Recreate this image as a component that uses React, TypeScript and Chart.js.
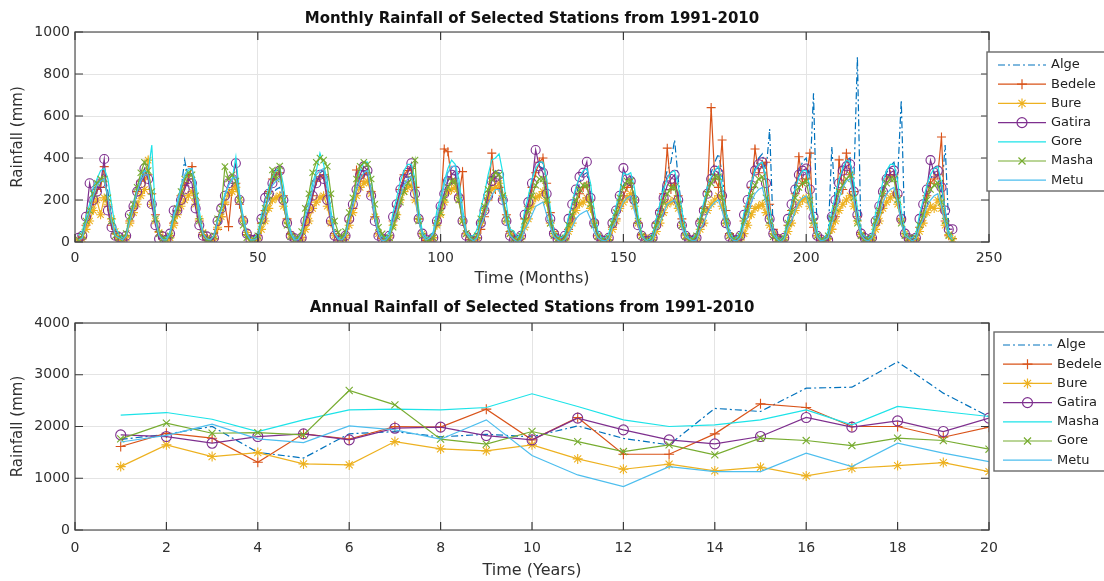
import React, { useEffect, useRef } from 'react';
import { Chart, registerables } from 'chart.js';

Chart.register(...registerables);

// ---------------- Data ----------------
const MONTH_TICKS = [0, 50, 100, 150, 200, 250];
const RAIN_M_TICKS = [0, 200, 400, 600, 800, 1000];
const YEAR_TICKS = [0, 2, 4, 6, 8, 10, 12, 14, 16, 18, 20];
const RAIN_Y_TICKS = [0, 1000, 2000, 3000, 4000];

const STATIONS_TOP = ['Alge', 'Bedele', 'Bure', 'Gatira', 'Gore', 'Masha', 'Metu'];
const STATIONS_BOTTOM = ['Alge', 'Bedele', 'Bure', 'Gatira', 'Masha', 'Gore', 'Metu'];

const monthlyAlge = [
  10, 25, 80, 120, 210, 270, 300, 330, 240, 110, 40, 15,
  5, 30, 90, 150, 230, 280, 320, 340, 230, 110, 50, 15,
  20, 40, 110, 160, 250, 390, 300, 330, 240, 110, 40, 10,
  5, 20, 60, 100, 180, 240, 270, 280, 200, 100, 35, 10,
  0, 15, 50, 110, 170, 220, 250, 260, 180, 90, 30, 15,
  10, 30, 90, 140, 230, 290, 330, 340, 240, 100, 40, 20,
  15, 20, 100, 150, 240, 300, 340, 330, 240, 110, 40, 15,
  5, 25, 80, 130, 220, 290, 320, 330, 240, 110, 40, 10,
  10, 30, 90, 140, 230, 300, 330, 320, 240, 110, 40, 10,
  20, 20, 60, 120, 210, 310, 340, 330, 230, 110, 40, 10,
  10, 40, 100, 160, 250, 330, 360, 350, 240, 110, 40, 20,
  5, 20, 80, 140, 220, 280, 320, 330, 230, 100, 35, 10,
  5, 20, 70, 120, 200, 270, 300, 310, 220, 95, 30, 5,
  10, 40, 110, 180, 280, 340, 380, 486, 300, 150, 50, 24,
  10, 30, 100, 170, 270, 330, 380, 420, 330, 160, 60, 30,
  15, 40, 120, 190, 290, 350, 400, 420, 330, 538, 40, 7,
  10, 30, 110, 180, 280, 340, 380, 400, 300, 708, 20, 2,
  10, 20, 454, 180, 290, 350, 390, 400, 260, 882, 14, 0,
  5, 20, 100, 170, 260, 330, 360, 380, 300, 676, 30, 14,
  5, 20, 80, 140, 230, 300, 330, 300, 220, 462, 70, 33,
];

const monthlyBedele = [
  10, 20, 80, 140, 190, 250, 260, 359, 170, 80, 40, 14,
  5, 30, 100, 160, 240, 290, 300, 320, 230, 130, 50, 15,
  10, 30, 90, 150, 220, 270, 300, 359, 200, 100, 35, 10,
  0, 15, 60, 120, 180, 73, 250, 280, 180, 100, 35, 17,
  10, 30, 90, 150, 240, 300, 320, 330, 220, 110, 40, 18,
  5, 20, 80, 140, 220, 290, 310, 320, 220, 100, 40, 10,
  10, 30, 100, 160, 343, 290, 320, 330, 240, 120, 40, 17,
  10, 30, 100, 170, 250, 320, 340, 350, 260, 110, 40, 7,
  5, 20, 90, 160, 443, 430, 300, 280, 220, 335, 40, 12,
  5, 20, 60, 120, 200, 423, 250, 260, 200, 130, 50, 24,
  10, 30, 110, 170, 260, 330, 380, 400, 280, 140, 50, 14,
  0, 15, 60, 110, 180, 230, 260, 270, 200, 100, 30, 9,
  5, 10, 70, 110, 170, 220, 260, 280, 200, 90, 35, 14,
  5, 20, 90, 150, 230, 447, 250, 280, 220, 110, 40, 16,
  10, 30, 100, 160, 240, 640, 300, 260, 486, 150, 40, 22,
  10, 30, 100, 170, 260, 443, 330, 370, 380, 180, 60, 34,
  5, 20, 80, 150, 230, 406, 280, 300, 423, 70, 30, 6,
  0, 15, 60, 120, 391, 250, 423, 320, 240, 120, 45, 16,
  5, 20, 80, 140, 230, 300, 320, 320, 220, 110, 40, 8,
  5, 15, 70, 130, 220, 280, 300, 320, 500, 100, 30, 17,
];

const monthlyBure = [
  5, 15, 60, 100, 150, 200, 130, 210, 180, 110, 50, 15,
  10, 20, 90, 140, 180, 220, 250, 390, 180, 100, 45, 20,
  5, 20, 80, 130, 170, 200, 220, 240, 180, 110, 45, 19,
  0, 15, 70, 120, 190, 230, 240, 260, 200, 110, 45, 16,
  0, 10, 60, 100, 160, 200, 210, 220, 170, 100, 35, 12,
  5, 10, 60, 100, 160, 190, 210, 220, 170, 90, 30, 13,
  10, 20, 80, 140, 220, 260, 280, 290, 230, 120, 40, 19,
  5, 20, 80, 130, 200, 240, 260, 270, 200, 110, 40, 12,
  5, 20, 80, 130, 190, 240, 250, 260, 200, 100, 40, 14,
  10, 20, 90, 150, 210, 250, 260, 280, 220, 100, 40, 15,
  5, 15, 70, 110, 170, 210, 220, 240, 190, 90, 40, 14,
  0, 10, 50, 90, 150, 180, 190, 210, 160, 90, 30, 14,
  0, 10, 60, 100, 160, 190, 210, 230, 170, 90, 30, 21,
  0, 10, 50, 90, 140, 180, 190, 200, 160, 80, 30, 12,
  0, 10, 60, 90, 150, 180, 200, 220, 170, 90, 30, 13,
  0, 10, 40, 80, 130, 160, 170, 180, 140, 80, 40, 15,
  0, 10, 50, 90, 150, 180, 200, 210, 170, 90, 30, 13,
  0, 15, 60, 100, 150, 180, 200, 220, 170, 100, 35, 15,
  5, 15, 60, 100, 160, 190, 210, 230, 180, 100, 40, 13,
  0, 10, 50, 90, 140, 170, 160, 200, 160, 80, 35, 14,
];

const monthlyGatira = [
  20, 30, 120, 280, 200, 240, 280, 395, 150, 70, 30, 23,
  5, 30, 130, 170, 240, 280, 350, 300, 180, 80, 15, 26,
  10, 40, 150, 150, 200, 250, 300, 280, 160, 80, 30, 27,
  0, 20, 100, 160, 220, 280, 300, 375, 200, 100, 40, 11,
  10, 20, 110, 210, 230, 280, 320, 340, 200, 90, 30, 18,
  5, 20, 100, 160, 220, 280, 320, 300, 200, 100, 30, 7,
  10, 30, 110, 180, 250, 320, 360, 340, 220, 100, 30, 17,
  10, 30, 120, 180, 250, 300, 330, 375, 230, 110, 40, 12,
  5, 20, 100, 170, 230, 290, 320, 340, 210, 100, 30, 10,
  5, 20, 90, 150, 220, 290, 310, 320, 200, 100, 30, 7,
  10, 30, 130, 190, 280, 438, 360, 330, 230, 110, 40, 13,
  5, 30, 110, 180, 250, 310, 330, 382, 210, 90, 30, 8,
  5, 20, 90, 150, 220, 352, 300, 290, 200, 80, 30, 5,
  5, 20, 80, 140, 210, 270, 300, 320, 200, 80, 30, 9,
  5, 20, 90, 150, 230, 300, 340, 330, 220, 90, 25, 6,
  10, 30, 130, 200, 270, 340, 370, 380, 280, 110, 40, 14,
  5, 20, 110, 180, 250, 320, 340, 350, 250, 120, 30, 12,
  0, 10, 120, 200, 280, 340, 360, 370, 240, 130, 40, 19,
  5, 20, 100, 170, 240, 300, 330, 340, 230, 110, 40, 18,
  10, 20, 110, 180, 250, 390, 330, 340, 260, 150, 60, 61,
];

const monthlyGore = [
  30, 50, 120, 180, 260, 300, 340, 350, 300, 180, 70, 39,
  20, 40, 130, 190, 260, 310, 340, 330, 462, 130, 40, 18,
  20, 50, 130, 190, 270, 310, 340, 350, 280, 150, 40, 10,
  10, 30, 100, 160, 230, 270, 300, 406, 230, 120, 40, 7,
  20, 40, 130, 190, 260, 310, 340, 360, 270, 140, 50, 19,
  20, 50, 140, 200, 280, 340, 423, 370, 290, 150, 40, 19,
  20, 50, 140, 200, 290, 340, 380, 380, 300, 160, 50, 25,
  20, 50, 140, 210, 290, 340, 370, 370, 300, 160, 50, 22,
  20, 50, 150, 210, 290, 350, 390, 370, 300, 160, 50, 27,
  30, 60, 160, 230, 320, 390, 400, 420, 330, 180, 60, 52,
  20, 50, 150, 220, 300, 350, 380, 380, 300, 160, 50, 27,
  20, 40, 120, 190, 260, 310, 340, 350, 280, 150, 50, 19,
  20, 40, 110, 170, 240, 330, 320, 330, 260, 130, 40, 10,
  10, 30, 110, 180, 250, 300, 330, 340, 270, 150, 50, 12,
  20, 40, 120, 190, 260, 310, 340, 360, 270, 150, 50, 19,
  20, 50, 140, 200, 280, 340, 370, 380, 300, 160, 60, 22,
  10, 30, 110, 180, 250, 310, 340, 340, 260, 140, 50, 12,
  20, 50, 150, 220, 300, 350, 390, 380, 290, 160, 50, 27,
  20, 40, 140, 210, 290, 340, 370, 370, 290, 150, 50, 20,
  20, 40, 130, 200, 270, 320, 350, 360, 280, 150, 50, 23,
];

const monthlyMasha = [
  10, 30, 100, 150, 230, 280, 300, 300, 210, 100, 30, 20,
  10, 40, 120, 180, 260, 330, 380, 340, 240, 110, 40, 14,
  10, 30, 110, 160, 240, 300, 330, 320, 220, 100, 40, 10,
  10, 30, 110, 160, 359, 300, 320, 290, 200, 80, 20, 4,
  10, 30, 100, 160, 220, 343, 300, 362, 200, 80, 25, 8,
  20, 50, 160, 230, 330, 380, 400, 390, 360, 230, 100, 46,
  20, 50, 140, 210, 300, 360, 380, 370, 300, 180, 70, 39,
  5, 20, 70, 120, 190, 240, 280, 300, 390, 100, 30, 10,
  5, 20, 90, 140, 210, 260, 290, 290, 200, 100, 40, 13,
  10, 30, 110, 170, 250, 300, 330, 320, 220, 110, 40, 13,
  5, 30, 100, 150, 220, 270, 300, 300, 200, 90, 30, 14,
  5, 20, 80, 130, 200, 250, 270, 270, 180, 80, 25, 6,
  5, 20, 90, 140, 210, 260, 290, 290, 200, 100, 30, 10,
  0, 20, 80, 120, 190, 230, 260, 260, 180, 80, 25, 6,
  10, 30, 100, 150, 230, 280, 310, 310, 210, 100, 30, 14,
  5, 30, 100, 150, 220, 270, 300, 310, 210, 100, 25, 9,
  5, 20, 90, 140, 210, 260, 280, 290, 200, 100, 30, 7,
  5, 30, 110, 160, 240, 270, 300, 320, 210, 90, 30, 9,
  10, 20, 100, 150, 230, 280, 300, 300, 200, 90, 30, 19,
  5, 20, 80, 130, 200, 250, 270, 280, 190, 100, 30, 6,
];

const monthlyMetu = [
  10, 20, 90, 140, 220, 270, 290, 300, 210, 100, 30, 20,
  10, 30, 100, 160, 240, 290, 320, 320, 220, 100, 30, 10,
  10, 40, 120, 180, 260, 320, 350, 350, 250, 110, 40, 15,
  10, 30, 100, 150, 220, 270, 300, 310, 220, 100, 40, 10,
  10, 20, 90, 140, 210, 270, 290, 300, 210, 100, 40, 10,
  10, 40, 120, 170, 250, 320, 340, 350, 250, 110, 40, 12,
  10, 30, 110, 170, 250, 300, 330, 340, 240, 110, 40, 5,
  10, 30, 100, 150, 220, 270, 300, 310, 220, 100, 35, 10,
  20, 40, 120, 190, 270, 330, 360, 360, 260, 120, 40, 19,
  5, 20, 80, 120, 180, 220, 250, 250, 180, 90, 30, 13,
  0, 10, 60, 90, 130, 170, 180, 190, 130, 70, 25, 9,
  0, 10, 40, 70, 110, 130, 140, 150, 110, 50, 20, 9,
  5, 15, 70, 100, 150, 190, 210, 220, 150, 80, 25, 10,
  0, 10, 60, 90, 140, 180, 190, 200, 150, 70, 25, 14,
  5, 10, 60, 90, 140, 170, 190, 200, 150, 80, 25, 9,
  5, 20, 80, 120, 190, 230, 250, 260, 190, 90, 35, 14,
  0, 15, 70, 100, 150, 190, 210, 220, 160, 80, 25, 5,
  10, 20, 90, 140, 210, 260, 290, 300, 210, 100, 35, 12,
  5, 20, 80, 120, 190, 230, 250, 260, 190, 90, 30, 19,
  5, 15, 70, 110, 170, 200, 220, 230, 170, 90, 30, 12,
];

const annualAlge = [1750, 1850, 2000, 1500, 1390, 1860, 1900, 1800, 1850, 1800, 2010, 1770, 1645, 2350, 2290, 2740, 2760, 3250, 2645, 2190];
const annualBedele = [1613, 1870, 1774, 1310, 1858, 1755, 2000, 1987, 2335, 1742, 2174, 1464, 1464, 1858, 2438, 2367, 2000, 2000, 1793, 1987];
const annualBure = [1225, 1645, 1419, 1496, 1277, 1258, 1709, 1567, 1529, 1645, 1374, 1174, 1271, 1142, 1213, 1045, 1193, 1245, 1303, 1129];
const annualGatira = [1838, 1806, 1677, 1806, 1858, 1742, 1967, 1987, 1825, 1742, 2161, 1935, 1742, 1664, 1806, 2174, 1987, 2109, 1903, 2161];
const annualMasha = [2219, 2270, 2140, 1903, 2129, 2322, 2335, 2322, 2367, 2632, 2387, 2129, 2000, 2032, 2129, 2322, 2032, 2387, 2290, 2193];
const annualGore = [1760, 2064, 1870, 1883, 1838, 2696, 2419, 1755, 1658, 1903, 1709, 1516, 1645, 1451, 1774, 1729, 1632, 1774, 1729, 1561];
const annualMetu = [1700, 1830, 2045, 1760, 1690, 2012, 1935, 1755, 2129, 1438, 1064, 839, 1225, 1129, 1129, 1484, 1225, 1677, 1484, 1322];

// ---------------- Styles ----------------
const COLORS = ['#0072BD', '#D95319', '#EDB120', '#7E2F8E', '#1CE3E8', '#77AC30', '#4DBEEE'];
const MARKERS = ['none', 'cross', 'star', 'circle', 'none', 'crossRot', 'none'];
const DASH_ALGE = [7, 3, 2, 3];
const FONT = 'DejaVu Sans';
const TEXT_COLOR = '#303030';
const GRID_COLOR = '#e4e4e4';
const FRAME_COLOR = '#6a6a6a';

function drawMarker(ctx: CanvasRenderingContext2D, style: string, x: number, y: number, r: number) {
  ctx.beginPath();
  if (style === 'circle') {
    ctx.arc(x, y, r, 0, Math.PI * 2);
  }
  if (style === 'cross' || style === 'star') {
    ctx.moveTo(x - r, y); ctx.lineTo(x + r, y);
    ctx.moveTo(x, y - r); ctx.lineTo(x, y + r);
  }
  if (style === 'crossRot' || style === 'star') {
    const d = r * 0.7071;
    ctx.moveTo(x - d, y - d); ctx.lineTo(x + d, y + d);
    ctx.moveTo(x - d, y + d); ctx.lineTo(x + d, y - d);
  }
  ctx.stroke();
}

const framePlugin = {
  id: 'frame',
  afterDatasetsDraw(chart: any) {
    const { ctx, chartArea } = chart;
    const { left, right, top, bottom } = chartArea;
    ctx.save();
    ctx.strokeStyle = FRAME_COLOR;
    ctx.lineWidth = 1.4;
    ctx.strokeRect(left, top, right - left, bottom - top);
    ctx.lineWidth = 1.2;
    ctx.strokeStyle = '#3a3a3a';
    const tl = 8;
    chart.scales.x.ticks.forEach((t: any) => {
      const px = chart.scales.x.getPixelForValue(t.value);
      ctx.beginPath();
      ctx.moveTo(px, bottom); ctx.lineTo(px, bottom - tl);
      ctx.moveTo(px, top); ctx.lineTo(px, top + tl);
      ctx.stroke();
    });
    chart.scales.y.ticks.forEach((t: any) => {
      const py = chart.scales.y.getPixelForValue(t.value);
      ctx.beginPath();
      ctx.moveTo(left, py); ctx.lineTo(left + tl, py);
      ctx.moveTo(right, py); ctx.lineTo(right - tl, py);
      ctx.stroke();
    });
    ctx.restore();
  },
};

const figTitlePlugin = {
  id: 'figTitle',
  afterDraw(chart: any, _args: any, opts: any) {
    const { ctx, chartArea } = chart;
    ctx.save();
    ctx.font = `bold 15px "${FONT}"`;
    ctx.fillStyle = '#111';
    ctx.textAlign = 'center';
    ctx.textBaseline = 'middle';
    ctx.fillText(opts.text, (chartArea.left + chartArea.right) / 2, opts.y);
    ctx.restore();
  },
};

const boxLegendPlugin = {
  id: 'boxLegend',
  afterDraw(chart: any, _args: any, opts: any) {
    const { ctx } = chart;
    const { x, y, w, h, row0, rowGap, lineX0, lineX1, textX } = opts;
    ctx.save();
    ctx.fillStyle = '#ffffff';
    ctx.fillRect(x, y, w, h);
    ctx.strokeStyle = FRAME_COLOR;
    ctx.lineWidth = 1.4;
    ctx.strokeRect(x, y, w, h);
    chart.data.datasets.forEach((ds: any, i: number) => {
      const ry = row0 + i * rowGap;
      ctx.strokeStyle = ds.borderColor;
      ctx.lineWidth = 1.2;
      ctx.setLineDash(ds.borderDash || []);
      ctx.beginPath();
      ctx.moveTo(lineX0, ry); ctx.lineTo(lineX1, ry);
      ctx.stroke();
      ctx.setLineDash([]);
      if (ds.markerName !== 'none') {
        drawMarker(ctx, ds.markerName, (lineX0 + lineX1) / 2, ry, 5);
      }
      ctx.fillStyle = '#222';
      ctx.font = `13px "${FONT}"`;
      ctx.textAlign = 'left';
      ctx.textBaseline = 'middle';
      ctx.fillText(ds.label, textX, ry);
    });
    ctx.restore();
  },
};

function makeDatasets(labels: string[], series: number[][], colors: string[], markers: string[], radius: number) {
  return series.map((vals, i) => ({
    label: labels[i],
    data: vals.map((v, k) => ({ x: k + 1, y: v })),
    borderColor: colors[i],
    borderWidth: 1.2,
    borderDash: i === 0 ? DASH_ALGE : [],
    pointStyle: markers[i] === 'none' ? false : markers[i],
    markerName: markers[i],
    pointRadius: markers[i] === 'none' ? 0 : radius,
    pointBorderColor: colors[i],
    pointBackgroundColor: 'rgba(0,0,0,0)',
    pointBorderWidth: 1.1,
    fill: false,
    tension: 0,
    order: 7 - i,
  }));
}

function makeScales(xTicks: number[], yTicks: number[], xTitle: string, xHeight: number, xTickPad: number, xTitlePad: number) {
  const tickFont = { family: FONT, size: 14 };
  const plain = (v: any) => String(v);
  return {
    x: {
      type: 'linear',
      min: xTicks[0],
      max: xTicks[xTicks.length - 1],
      afterBuildTicks: (s: any) => { s.ticks = xTicks.map((v) => ({ value: v })); },
      afterFit: (s: any) => { s.height = xHeight; },
      grid: { color: GRID_COLOR, drawTicks: false, lineWidth: 1 },
      border: { display: false },
      ticks: { font: tickFont, color: TEXT_COLOR, padding: xTickPad, maxRotation: 0, autoSkip: false, callback: plain },
      title: { display: true, text: xTitle, font: { family: FONT, size: 16 }, color: TEXT_COLOR, padding: { top: 0, bottom: xTitlePad } },
    },
    y: {
      type: 'linear',
      min: yTicks[0],
      max: yTicks[yTicks.length - 1],
      afterBuildTicks: (s: any) => { s.ticks = yTicks.map((v) => ({ value: v })); },
      afterFit: (s: any) => { s.width = 75; },
      grid: { color: GRID_COLOR, drawTicks: false, lineWidth: 1 },
      border: { display: false },
      ticks: { font: tickFont, color: TEXT_COLOR, padding: 5, autoSkip: false, callback: plain },
      title: { display: true, text: 'Rainfall (mm)', font: { family: FONT, size: 15 }, color: TEXT_COLOR, padding: { top: 9, bottom: 0 } },
    },
  };
}

function TopChart() {
  const ref = useRef<HTMLCanvasElement | null>(null);
  useEffect(() => {
    if (!ref.current) return;
    const datasets = makeDatasets(
      STATIONS_TOP,
      [monthlyAlge, monthlyBedele, monthlyBure, monthlyGatira, monthlyGore, monthlyMasha, monthlyMetu],
      COLORS, MARKERS, 4.5,
    );
    const chart = new Chart(ref.current, {
      type: 'line',
      data: { datasets } as any,
      options: {
        responsive: false,
        animation: false,
        events: [],
        layout: { padding: { left: 0, right: 115, top: 32, bottom: 0 } },
        plugins: {
          legend: { display: false },
          tooltip: { enabled: false },
          figTitle: { text: 'Monthly Rainfall of Selected Stations from 1991-2010', y: 19 },
          boxLegend: { x: 987, y: 52, w: 118, h: 139, row0: 65, rowGap: 19.2, lineX0: 998, lineX1: 1046, textX: 1051 },
        } as any,
        scales: makeScales(MONTH_TICKS, RAIN_M_TICKS, 'Time (Months)', 48, 8, 2) as any,
      },
      plugins: [framePlugin, figTitlePlugin, boxLegendPlugin],
    });
    return () => chart.destroy();
  }, []);
  return <canvas ref={ref} width={1104} height={290} style={{ display: 'block' }} />;
}

function BottomChart() {
  const ref = useRef<HTMLCanvasElement | null>(null);
  useEffect(() => {
    if (!ref.current) return;
    const datasets = makeDatasets(
      STATIONS_BOTTOM,
      [annualAlge, annualBedele, annualBure, annualGatira, annualMasha, annualGore, annualMetu],
      COLORS, MARKERS, 5,
    );
    const chart = new Chart(ref.current, {
      type: 'line',
      data: { datasets } as any,
      options: {
        responsive: false,
        animation: false,
        events: [],
        layout: { padding: { left: 0, right: 115, top: 33, bottom: 0 } },
        plugins: {
          legend: { display: false },
          tooltip: { enabled: false },
          figTitle: { text: 'Annual Rainfall of Selected Stations from 1991-2010', y: 18 },
          boxLegend: { x: 994, y: 42, w: 120, h: 139, row0: 55, rowGap: 19.2, lineX0: 1003, lineX1: 1052, textX: 1057 },
        } as any,
        scales: makeScales(YEAR_TICKS, RAIN_Y_TICKS, 'Time (Years)', 51, 10, 1) as any,
      },
      plugins: [framePlugin, figTitlePlugin, boxLegendPlugin],
    });
    return () => chart.destroy();
  }, []);
  return <canvas ref={ref} width={1104} height={291} style={{ display: 'block' }} />;
}

export default function App() {
  return (
    <div style={{ position: 'absolute', left: 0, top: 0, width: 1104, height: 581, background: '#ffffff', overflow: 'hidden' }}>
      <TopChart />
      <BottomChart />
    </div>
  );
}
